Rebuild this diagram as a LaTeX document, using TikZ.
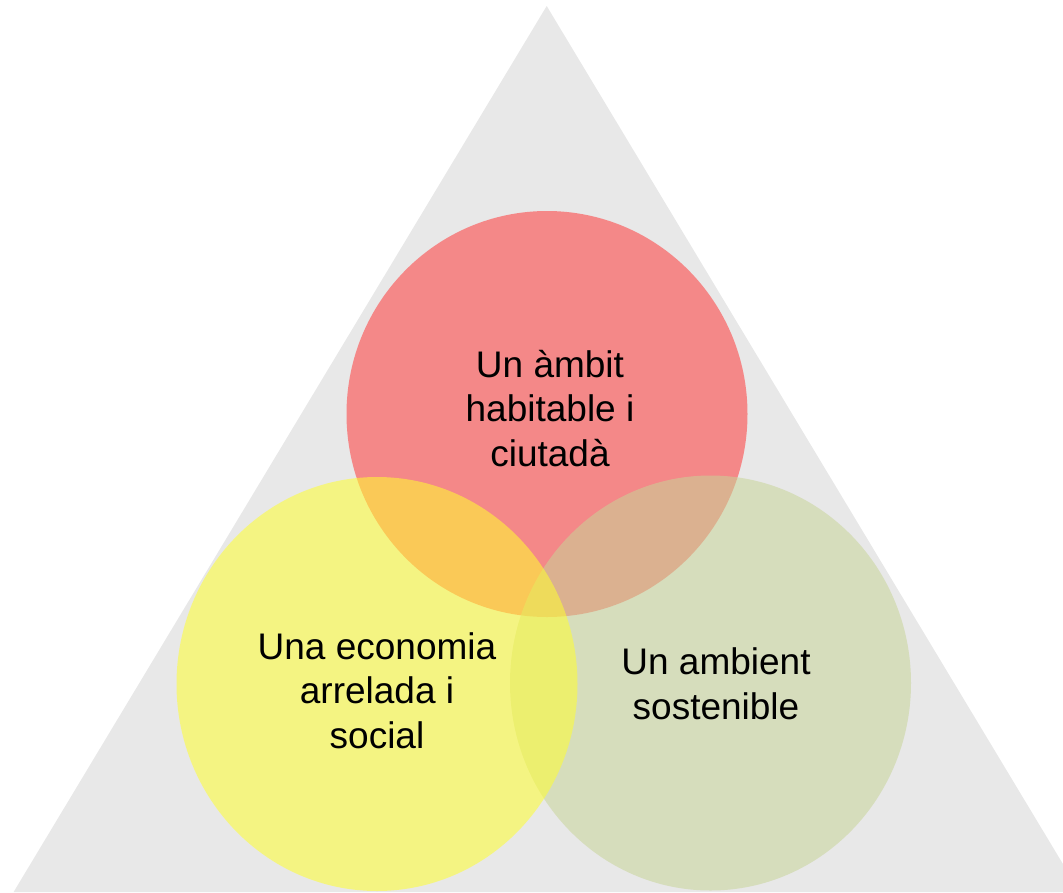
\documentclass[tikz,border=0pt]{standalone}
\usepackage{fontspec}
\setmainfont{Liberation Sans}
\definecolor{trigray}{HTML}{E8E8E8}
\definecolor{cred}{HTML}{FF3A3A}
\definecolor{cyellow}{HTML}{FFFF30}
\definecolor{cgreen}{HTML}{C8D498}
\tikzset{
  blob/.style={ellipse, inner sep=0pt, draw=none, fill opacity=0.55},
  label/.style={align=center, inner sep=0pt, text=black, font=\fontsize{37}{44.5}\selectfont}
}
\usetikzlibrary{shapes.geometric}
\begin{document}
\begin{tikzpicture}[x=1pt,y=-1pt]
\useasboundingbox (0,0) rectangle (1063,892);
\begin{scope}
\clip (0,0) rectangle (1063,892);
\fill[trigray] (546.7,6) -- (13.6,892) -- (1079.8,892) -- cycle;
\node[blob, fill=cred, minimum width=401pt, minimum height=406pt] (red) at (547,414) {};
\node[blob, fill=cgreen, minimum width=401pt, minimum height=415pt] (green) at (710.5,683) {};
\node[blob, fill=cyellow, minimum width=401pt, minimum height=414pt] (yellow) at (377,684) {};
\end{scope}
\node[label] (tred) at (550,408.5) {Un àmbit\\habitable i\\ciutadà};
\node[label] (tyellow) at (377,690.5) {Una economia\\arrelada i\\social};
\node[label] (tgreen) at (716,684) {Un ambient\\sostenible};
\end{tikzpicture}
\end{document}
